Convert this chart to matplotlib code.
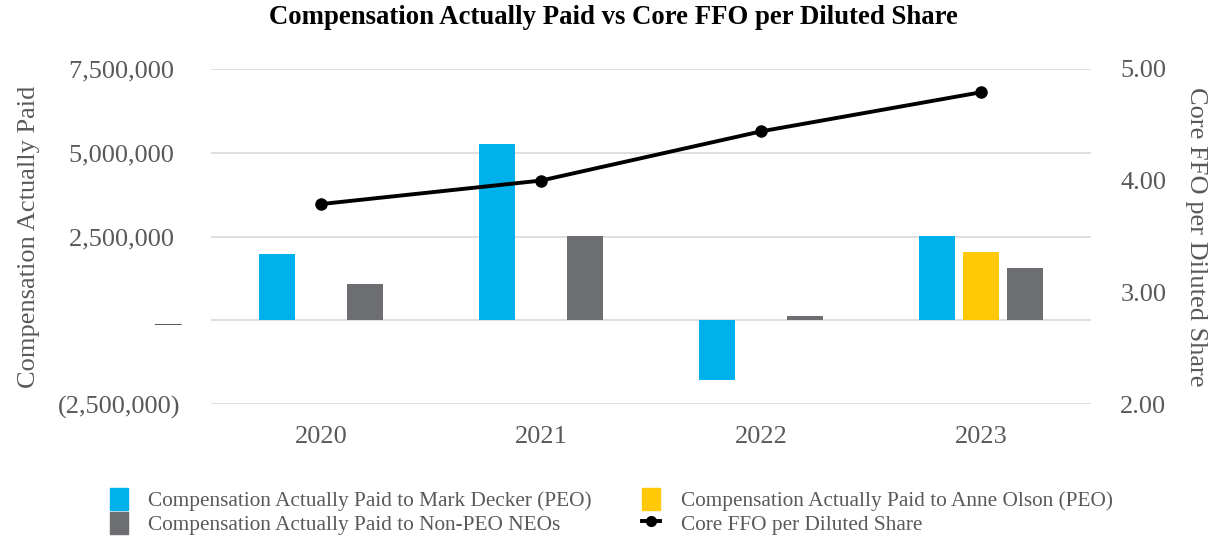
import numpy as np
import matplotlib.pyplot as plt
from matplotlib.ticker import FuncFormatter
from matplotlib.patches import Patch
from matplotlib.lines import Line2D

plt.rcParams['font.family'] = ['Liberation Serif', 'DejaVu Serif']

years = ["2020", "2021", "2022", "2023"]
decker = [1970000, 5250000, -1790000, 2510000]
olson = [np.nan, np.nan, np.nan, 2030000]
non_peo = [1070000, 2510000, 120000, 1550000]
core_ffo = [3.79, 4.00, 4.44, 4.79]

blue = "#00B1EB"
yellow = "#FFC907"
grey = "#6D6E71"
txt = "#595959"

fig = plt.figure(figsize=(12.26, 5.5), dpi=100)
ax = fig.add_axes([0.172, 0.265, 0.718, 0.61])
ax2 = ax.twinx()

x = np.arange(len(years))
w = 0.165
off = 0.2
ax.bar(x - off, decker, w, color=blue, zorder=2)
ax.bar(x, olson, w, color=yellow, zorder=2)
ax.bar(x + off, non_peo, w, color=grey, zorder=2)

ax.set_ylim(-2500000, 7500000)
ax.set_yticks([-2500000, 0, 2500000, 5000000, 7500000])


def acct(v, pos):
    if v == 0:
        return "\u2014"
    if v < 0:
        return "({:,.0f})".format(-v)
    return "{:,.0f} ".format(v)


ax.yaxis.set_major_formatter(FuncFormatter(acct))
ax.grid(axis="y", color="#D9D9D9", linewidth=1.2, zorder=0)
ax.set_xlim(-0.5, 3.5)
ax.set_xticks(x)
ax.set_xticklabels(years)

ax2.plot(x, core_ffo, color="black", linewidth=2.8, marker="o", markersize=8, zorder=3)
ax2.set_ylim(2.0, 5.0)
ax2.set_yticks([2.0, 3.0, 4.0, 5.0])
ax2.yaxis.set_major_formatter(FuncFormatter(lambda v, p: "{:.2f}".format(v)))

for a in (ax, ax2):
    for s in a.spines.values():
        s.set_visible(False)
    a.tick_params(length=0, labelsize=19, colors=txt, pad=14)
ax.tick_params(axis="x", pad=16)
ax.tick_params(axis="y", pad=22)
ax2.tick_params(axis="y", pad=21)

ax.set_ylabel("Compensation Actually Paid", fontsize=19, color=txt, labelpad=13)
ax2.set_ylabel("Core FFO per Diluted Share", fontsize=19, color=txt, rotation=270,
               labelpad=29)

fig.suptitle("Compensation Actually Paid vs Core FFO per Diluted Share",
             fontsize=19.3, fontweight="bold", y=0.99)

handles = [
    Patch(color=blue, label="Compensation Actually Paid to Mark Decker (PEO)"),
    Patch(color=grey, label="Compensation Actually Paid to Non-PEO NEOs"),
    Patch(color=yellow, label="Compensation Actually Paid to Anne Olson (PEO)"),
    Line2D([], [], color="black", linewidth=2.8, marker="o", markersize=7,
           label="Core FFO per Diluted Share"),
]
leg = fig.legend(handles=handles, ncol=2, loc="upper left", bbox_to_anchor=(0.074, 0.147),
                 frameon=False, fontsize=15.3, handlelength=0.85, handleheight=1.2,
                 columnspacing=2.37, labelspacing=0.05, handletextpad=0.96)
for t in leg.get_texts():
    t.set_color(txt)

fig.savefig("out.png", dpi=100)
